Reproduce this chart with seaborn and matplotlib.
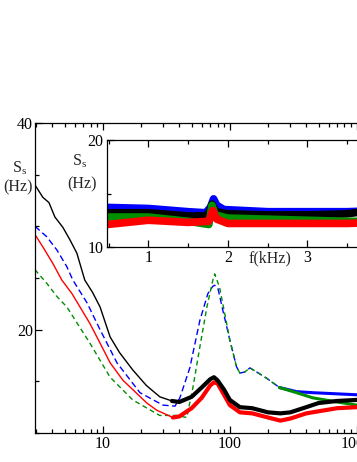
import matplotlib
matplotlib.use("Agg")
import matplotlib.pyplot as plt
import matplotlib.ticker as mticker
import seaborn as sns
import pandas as pd

sns.set_style("ticks")
plt.rcParams['font.family'] = ['Liberation Serif', 'DejaVu Serif']
plt.rcParams['mathtext.fontset'] = 'custom'
plt.rcParams['mathtext.rm'] = 'Liberation Serif'
plt.rcParams['mathtext.it'] = 'Liberation Serif'
plt.rcParams['font.size'] = 11.5
plt.rcParams.update({
    'xtick.direction': 'in', 'ytick.direction': 'in',
    'xtick.top': True, 'ytick.right': False,
    'xtick.major.size': 5, 'ytick.major.size': 5,
    'xtick.minor.size': 2.8, 'ytick.minor.size': 2.8,
    'xtick.major.width': 0.9, 'ytick.major.width': 0.9,
    'xtick.minor.width': 0.9, 'ytick.minor.width': 0.9,
    'xtick.color': 'black', 'ytick.color': 'black',
    'axes.edgecolor': 'black', 'axes.linewidth': 0.9,
})

# main panel: frequency (Hz) vs S_s (Hz)
black_f = [2.92, 3.37, 3.76, 4.19, 4.84, 5.5, 6.24, 7.2, 8.3, 9.5, 11.4, 13.5, 17.2, 22.0, 28.1, 35.0,
           40.0, 50.0, 60.0, 70.0, 75.0, 80.0, 90.0, 100.0, 120.0, 150.0, 200.0, 250.0, 300.0, 400.0, 500.0, 700.0, 1000.0]
black_s = [34.0, 32.8, 32.3, 30.9, 29.9, 28.7, 27.4, 24.8, 23.6, 22.2, 19.3, 17.8, 16.1, 14.6, 13.5, 13.1,
           13.0, 13.5, 14.4, 15.2, 15.4, 15.1, 14.2, 13.2, 12.5, 12.4, 12.0, 11.9, 12.0, 12.5, 12.9, 13.1, 13.2]

red_f = [2.92, 3.37, 4.04, 4.75, 5.7, 6.6, 7.9, 9.5, 11.4, 14.4, 17.2, 22.2, 26.6, 35.6,
         40.0, 50.0, 60.0, 70.0, 75.0, 80.0, 90.0, 100.0, 120.0, 150.0, 200.0, 250.0, 300.0, 400.0, 500.0, 700.0, 1000.0]
red_s = [29.2, 28.0, 26.4, 24.8, 23.5, 22.2, 20.6, 18.7, 16.8, 15.1, 14.2, 12.9, 12.2, 11.5,
         11.6, 12.4, 13.4, 14.6, 14.9, 14.8, 13.7, 12.7, 12.0, 11.9, 11.5, 11.2, 11.4, 11.9, 12.1, 12.4, 12.5]

blue_f = [2.92, 3.61, 4.35, 5.2, 5.8, 7.5, 9.5, 12.9, 19.6, 29.7, 37.0, 40.4, 48.4, 58.1, 67.2, 73.5, 76.0,
          80.6, 88.0, 100.0, 113.0, 120.0, 131.0, 144.0, 163.0, 195.0, 246.0, 336.0, 451.0, 1000.0]
blue_s = [30.0, 29.0, 27.7, 26.1, 24.8, 22.6, 20.0, 16.8, 13.9, 12.7, 12.6, 13.4, 16.3, 20.9, 23.5, 24.2, 24.3,
          24.0, 21.9, 19.0, 16.4, 15.8, 15.9, 16.3, 15.9, 15.3, 14.4, 14.0, 13.9, 13.7]

green_f = [2.92, 3.61, 4.35, 5.2, 7.9, 11.4, 17.2, 28.0, 38.0, 45.8, 51.2, 58.0, 66.0, 73.5, 76.0,
           83.0, 91.0, 100.0, 113.0, 120.0, 131.0, 144.0, 163.0, 195.0, 246.0, 336.0, 451.0, 700.0, 1000.0]
green_s = [25.8, 24.5, 23.2, 22.2, 18.7, 15.4, 13.2, 11.7, 11.7, 11.5, 14.4, 18.3, 22.2, 24.8, 25.4,
           24.1, 21.6, 19.0, 16.4, 15.8, 15.9, 16.3, 15.9, 15.3, 14.4, 13.9, 13.4, 13.0, 12.7]

# inset: frequency (kHz) vs S_s (Hz)
in_blue_f = [0.48, 1.0, 1.5, 1.72, 1.78, 1.82, 1.86, 1.95, 2.5, 3.0, 3.5, 3.9]
in_blue_s = [13.7, 13.6, 13.3, 13.2, 13.7, 14.5, 13.9, 13.5, 13.3, 13.3, 13.3, 13.4]
in_black_f = [0.48, 1.0, 1.5, 1.72, 1.77, 1.80, 1.85, 2.0, 2.5, 3.0, 3.5, 3.7, 3.9]
in_black_s = [13.2, 13.2, 12.9, 12.9, 13.3, 14.0, 13.3, 13.1, 13.0, 13.0, 13.1, 13.3, 13.3]
in_green_f = [0.48, 1.0, 1.5, 1.76, 1.80, 1.84, 2.0, 2.5, 3.0, 3.5, 3.9]
in_green_s = [12.8, 12.8, 12.4, 12.1, 13.9, 13.0, 12.7, 12.6, 12.5, 12.4, 12.4]
in_red_f = [0.48, 1.0, 1.5, 1.76, 1.81, 1.86, 2.0, 2.5, 3.0, 3.5, 3.9]
in_red_s = [12.1, 12.5, 12.3, 12.4, 13.4, 12.6, 12.2, 12.2, 12.2, 12.2, 12.3]

W, H = 357, 462
def fx(px):
    return px / W
def fy(py):
    return 1 - py / H

GREEN = '#008f00'

fig = plt.figure(figsize=(W / 100, H / 100), dpi=100)
ax = fig.add_axes([fx(35), fy(433), 360 / W, (433 - 123) / H])

def part(f, s, fmin):
    d = pd.DataFrame({'f': f, 's': s})
    return d[d.f >= fmin]

# dashed smooth curves first, noisy solid ones on top
for f, s, c, dash in [(blue_f, blue_s, 'blue', (4.5, 2.5)), (green_f, green_s, GREEN, (3.5, 2.5))]:
    sns.lineplot(x=f, y=s, ax=ax, color=c, lw=1.0, linestyle=(0, dash), sort=False, estimator=None)
    hp = part(f, s, 240)
    sns.lineplot(data=hp, x='f', y='s', ax=ax, color=c, lw=2.2, sort=False, estimator=None)

for f, s, c in [(red_f, red_s, 'red'), (black_f, black_s, 'black')]:
    sns.lineplot(x=f, y=s, ax=ax, color=c, lw=1.0, sort=False, estimator=None)
    hp = part(f, s, 35)
    sns.lineplot(data=hp, x='f', y='s', ax=ax, color=c, lw=3.0, sort=False, estimator=None)

ax.set_xscale('log')
ax.set_xlim(2.92, 2000)
ax.set_ylim(10, 40)
ax.xaxis.set_major_locator(mticker.LogLocator(base=10))
ax.xaxis.set_minor_locator(mticker.LogLocator(base=10, subs=range(2, 10)))
ax.xaxis.set_major_formatter(mticker.FuncFormatter(lambda v, p: f"{v:g}"))
ax.xaxis.set_minor_formatter(mticker.NullFormatter())
ax.yaxis.set_major_locator(mticker.FixedLocator([20, 40]))
ax.yaxis.set_minor_locator(mticker.MultipleLocator(5))
ax.tick_params(which='both', direction='in', top=True, bottom=True, left=True, right=False)
ax.tick_params(axis='x', which='major', pad=2)
ax.tick_params(axis='y', which='major', pad=1.5)
ax.set_xlabel('')
ax.set_ylabel('')

# inset
ax_in = fig.add_axes([fx(107), fy(247), 272 / W, 107 / H])
ax_in.set_facecolor('white')
for f, s, c in [(in_blue_f, in_blue_s, 'blue'), (in_black_f, in_black_s, 'black'),
                (in_green_f, in_green_s, GREEN), (in_red_f, in_red_s, 'red')]:
    sns.lineplot(x=f, y=s, ax=ax_in, color=c, lw=5.5, sort=False, estimator=None)
ax_in.set_xlim(0.48, 3.9)
ax_in.set_ylim(10, 20)
ax_in.xaxis.set_major_locator(mticker.MultipleLocator(1))
ax_in.xaxis.set_minor_locator(mticker.MultipleLocator(0.5))
ax_in.yaxis.set_major_locator(mticker.MultipleLocator(10))
ax_in.yaxis.set_minor_locator(mticker.MultipleLocator(5))
ax_in.tick_params(which='both', direction='in', top=True, bottom=True, left=True, right=False)
ax_in.tick_params(which='major', pad=2.5)
ax_in.set_xlabel('')
ax_in.set_ylabel('')

fig.text(fx(20), fy(168), r"S$_{\rm s}$", ha='center', va='center')
fig.text(fx(18), fy(187), "(Hz)", ha='center', va='center')
fig.text(fx(80), fy(161), r"S$_{\rm s}$", ha='center', va='center')
fig.text(fx(82), fy(184), "(Hz)", ha='center', va='center')
fig.text(fx(270), fy(258), "f(kHz)", ha='center', va='center')

fig.savefig('out.png', dpi=100)
